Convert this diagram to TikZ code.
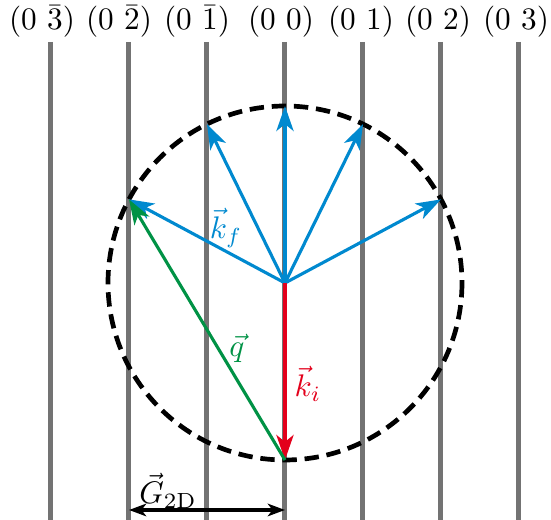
\documentclass[tikz,border=0pt]{standalone}
\usetikzlibrary{arrows.meta}
\definecolor{kblue}{RGB}{0,137,207}
\definecolor{kred}{RGB}{227,0,27}
\definecolor{kgreen}{RGB}{0,146,69}
\definecolor{rodgray}{RGB}{115,115,115}
\newcommand{\mil}[1]{(0 #1)}
\tikzset{
  rod/.style={draw=rodgray,line width=1.6pt},
  vec/.style={line width=1pt,-{Stealth[length=8pt,width=5.5pt,inset=2.2pt]}},
  kfvec/.style={vec,draw=kblue},
  ewald/.style={draw=black,line width=1.5pt,dash pattern=on 4.6pt off 2.5pt},
  lbl/.style={inner sep=0pt}
}
\begin{document}
\begin{tikzpicture}[x=0.32pt,y=-0.32pt,font=\fontsize{10}{12}\selectfont]
\useasboundingbox (0,0) rectangle (551,520);
% rods and labels
\foreach \x/\lx/\n/\t in {51/42/m3/{\mil{$\bar{3}$}},129/119/m2/{\mil{$\bar{2}$}},207/197/m1/{\mil{$\bar{1}$}},285/281/z/{\mil{0}},363/361/p1/{\mil{1}},441/438/p2/{\mil{2}},519/516/p3/{\mil{3}}}{
  \node[lbl] (lab\n) at (\lx,21.5) {\t};
  \coordinate (top\n) at (\x,42);
  \coordinate (bot\n) at (\x,520);
  \draw[rod] (top\n) -- (bot\n);
}
% Ewald circle
\coordinate (c) at (285,283);
\draw[ewald] (c) circle[radius=177];
% points on circle
\coordinate (fm2) at (129,199.4);
\coordinate (fm1) at (207,124.1);
\coordinate (fz) at (285,106);
\coordinate (fp1) at (363,124.1);
\coordinate (fp2) at (441,199.4);
\coordinate (o) at (285,460);
% kf vectors
\foreach \n in {m2,m1,z,p1,p2}{
  \draw[kfvec] (c) -- (f\n);
}
\node[text=kblue,lbl] (kf) at (226,228) {$\vec{k}_f$};
% ki
\draw[vec,draw=kred] (c) -- (o);
\node[text=kred,lbl] (ki) at (308,384) {$\vec{k}_i$};
% q
\draw[vec,draw=kgreen] (o) -- (fm2);
\node[text=kgreen,lbl] (q) at (237,348) {$\vec{q}$};
% G2D
\coordinate (ga) at (129,510);
\coordinate (gb) at (285,510);
\draw[line width=1pt,{Stealth[length=5.5pt,width=4pt,inset=1.5pt]}-{Stealth[length=5.5pt,width=4pt,inset=1.5pt]}] (ga) -- (gb);
\node[lbl] (g) at (168,491) {$\vec{G}_{\mathrm{2D}}$};
\end{tikzpicture}
\end{document}
